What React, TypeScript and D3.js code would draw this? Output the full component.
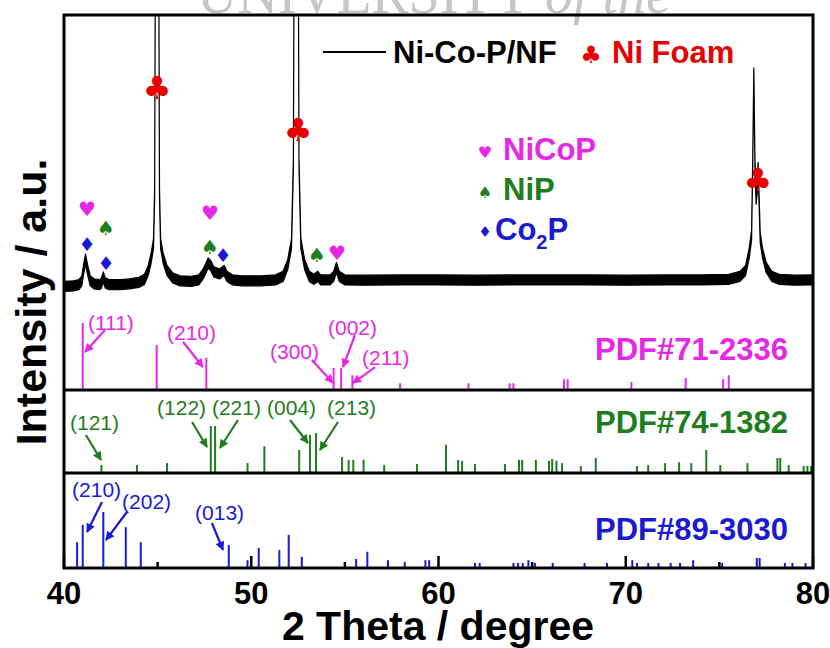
import React from 'react';
import * as d3 from 'd3';

const W = 830;
const H = 648;

// ---- measured XRD pattern (2θ in degrees, intensity in a.u., centre of noise band)
const xrdAngle = [
  40.0, 40.5, 40.8, 40.95, 41.05, 41.15, 41.25, 41.4, 41.6, 41.9, 42.0, 42.1, 42.2, 42.4, 43.0, 43.5,
  44.0, 44.3, 44.5, 44.65, 44.78, 44.84, 44.88, 44.97, 45.06, 45.1, 45.16, 45.3, 45.5, 45.8, 46.2,
  46.8, 47.2, 47.45, 47.7, 47.85, 48.0, 48.3, 48.55, 48.7, 49.0, 49.5, 50.5, 51.3, 51.7, 51.95,
  52.15, 52.25, 52.3, 52.4, 52.5, 52.55, 52.65, 52.85, 53.1, 53.35, 53.55, 53.7, 54.2, 54.4, 54.55,
  54.7, 55.0, 56, 58, 60, 62, 64, 66, 68, 70, 72, 74, 75.5, 76.1, 76.4, 76.6, 76.72, 76.78, 76.84,
  76.9, 76.96, 77.03, 77.07, 77.12, 77.18, 77.3, 77.5, 77.8, 78.2, 79, 80,
];
const xrdIntensity = [
  86, 88, 92, 105, 145, 178, 145, 105, 95, 92, 98, 118, 98, 92, 92, 95,
  100, 110, 140, 180, 230, 400, 1200, 3000, 1200, 400, 230, 180, 140, 115, 105,
  103, 108, 130, 165, 155, 135, 128, 140, 120, 108, 105, 105, 108, 120, 160,
  230, 500, 1500, 3000, 1500, 500, 230, 160, 120, 110, 120, 108, 108, 120, 150,
  120, 108, 107, 108, 108, 107, 108, 108, 108, 107, 108, 108, 110, 120, 140, 200, 260, 500, 805,
  500, 380, 420, 487, 380, 250, 200, 150, 120, 110, 107, 108,
];

// ---- reference cards (2θ, relative intensity %)
const nicopAngle = [41.0, 44.95, 47.6, 54.4, 54.8, 55.4, 57.95, 61.6, 63.8, 64.0, 66.7, 66.9, 70.3, 73.2, 75.2, 75.5];
const nicopIntensity = [100, 67, 48, 33, 33, 22, 10, 10, 10, 10, 16, 16, 12, 18, 16, 22];

const nipAngle = [
  42.0, 43.9, 45.5, 47.84, 48.07, 49.8, 50.7, 52.56, 53.14, 53.46, 54.85, 55.2, 55.45, 56.0, 57.1, 58.85,
  60.4, 61.05, 61.26, 61.95, 63.55, 64.3, 64.47, 65.2, 65.9, 66.07, 66.3, 66.6, 67.6, 68.4, 70.6, 71.2,
  72.1, 72.85, 73.5, 74.3, 75.05, 76.5, 78.1, 78.25, 78.7, 79.5, 79.7, 79.9,
];
const nipIntensity = [
  17, 17, 21, 100, 100, 21, 57, 49, 81, 85, 34, 28, 28, 28, 17, 19,
  60, 28, 26, 19, 19, 28, 28, 28, 26, 30, 26, 21, 15, 32, 15, 17,
  21, 23, 21, 49, 17, 21, 32, 32, 17, 15, 15, 15,
];

const co2pAngle = [
  40.7, 41.0, 42.1, 43.3, 44.1, 48.8, 49.8, 50.4, 51.5, 52.0, 52.7, 55.6, 56.2, 57.3, 58.2, 59.3, 59.5,
  61.95, 62.2, 64.0, 64.25, 64.5, 64.8, 65.0, 65.15, 66.1, 67.8, 69.0, 70.35, 70.6, 71.2, 71.75, 72.4,
  72.9, 73.6, 75.15, 77.0, 77.15, 78.5, 78.9, 79.6,
];
const co2pIntensity = [
  46, 77, 100, 73, 46, 41, 14, 36, 32, 59, 20, 16, 29, 14, 11, 14, 14,
  9, 9, 9, 9, 9, 14, 9, 9, 9, 9, 9, 14, 9, 9, 9, 9,
  9, 14, 9, 18, 18, 9, 9, 9,
];

const xMajorTicks = [40, 50, 60, 70, 80];
const xMinorTicks = [45, 55, 65, 75];

// ---- phase markers on the pattern (2θ, a.u.)
const markerAngle = [41.23, 42.24, 41.23, 42.24, 47.8, 47.8, 48.49, 53.51, 54.58, 44.97, 52.5, 77.06];
const markerValue = [347, 283, 229, 165, 333, 219, 192, 192, 199, 754, 613, 444];
const markerPhase = ['NiCoP', 'NiP', 'Co2P', 'Co2P', 'NiCoP', 'NiP', 'Co2P', 'NiP', 'NiCoP', 'Ni', 'Ni', 'Ni'];

// ---- hkl annotations: label, text (2θ, %), arrow from (2θ, %) to (2θ, %)
const nicopNotes = ['(111)', '(210)', '(300)', '(002)', '(211)'];
const nicopNoteText = [[41.28, 89.6], [45.5, 74.6], [51.0, 46.3], [54.1, 82.1], [55.92, 37.3]];
const nicopNoteArrow = [[42.19, 89.6, 41.12, 56.7], [46.36, 71.6, 47.42, 34.3], [53.24, 44.8, 54.37, 10.4], [55.54, 82.1, 54.9, 34.3], [56.61, 34.3, 55.43, 10.4]];

const nipNotes = ['(121)', '(122)', '(221)', '(004)', '(213)'];
const nipNoteText = [[40.32, 91.5], [44.97, 123.4], [47.9, 123.4], [50.84, 123.4], [54.05, 123.4]];
const nipNoteArrow = [[41.17, 80.9, 41.98, 27.7], [46.84, 108.5, 47.64, 55.3], [49.29, 112.8, 48.33, 53.2], [52.07, 112.8, 53.03, 63.8], [54.63, 108.5, 53.67, 48.9]];

const co2pNotes = ['(210)', '(202)', '(013)'];
const co2pNoteText = [[40.43, 126.8], [43.1, 105.4], [47.0, 85.7]];
const co2pNoteArrow = [[42.03, 117.9, 41.23, 64.3], [43.36, 100, 42.24, 50], [47.9, 80.4, 48.49, 32.1]];

const COLORS: Record<string, string> = {
  NiCoP: '#e628e6',
  NiP: '#1e7d1e',
  Co2P: '#1a1ad2',
  Ni: '#e60000',
};
const GLYPH: Record<string, string> = { NiCoP: '\u2665', NiP: '\u2660', Co2P: '\u2666', Ni: '\u2663' };
const GLYPH_SIZE: Record<string, number> = { NiCoP: 20, NiP: 20, Co2P: 19, Ni: 32 };

const FONT = "'Liberation Sans', Arial, Helvetica, sans-serif";
const SYM_FONT = "'DejaVu Sans', sans-serif";

export default function App() {
  const left = 64, right = 813, top = 15, bottom = 568;
  const sep1 = 390, sep2 = 473;

  const x = d3.scaleLinear().domain([40, 80]).range([left, right]);
  const yX = d3.scaleLinear().domain([0, 1000]).range([312, 15]);
  const y1 = d3.scaleLinear().domain([0, 100]).range([sep1, sep1 - 67]);
  const y2 = d3.scaleLinear().domain([0, 100]).range([sep2, sep2 - 47]);
  const y3 = d3.scaleLinear().domain([0, 100]).range([bottom, bottom - 56]);

  const band = 17;
  const pts = xrdAngle.map((a, i) => ({ a, v: xrdIntensity[i] }));
  const area = d3
    .area<{ a: number; v: number }>()
    .x((d) => x(d.a))
    .y0((d) => yX(d.v - band))
    .y1((d) => yX(d.v + band));

  const bars = (angles: number[], vals: number[], ys: d3.ScaleLinear<number, number>, color: string, key: string) =>
    angles.map((a, i) => (
      <line key={key + i} x1={x(a)} x2={x(a)} y1={ys(0)} y2={ys(vals[i])} stroke={color} strokeWidth={2} />
    ));

  const notes = (
    labels: string[],
    txt: number[][],
    arr: number[][],
    ys: d3.ScaleLinear<number, number>,
    color: string,
    key: string
  ) =>
    labels.map((l, i) => (
      <g key={key + i}>
        <text x={x(txt[i][0])} y={ys(txt[i][1])} fill={color} fontSize={21} fontFamily={FONT}>
          {l}
        </text>
        <line
          x1={x(arr[i][0])}
          y1={ys(arr[i][1])}
          x2={x(arr[i][2])}
          y2={ys(arr[i][3])}
          stroke={color}
          strokeWidth={2.2}
          markerEnd={`url(#arrow-${key})`}
        />
      </g>
    ));

  const arrowDef = (key: string, color: string) => (
    <marker
      id={`arrow-${key}`}
      key={key}
      viewBox="0 0 10 10"
      refX={9}
      refY={5}
      markerWidth={10}
      markerHeight={9}
      markerUnits="userSpaceOnUse"
      orient="auto"
    >
      <path d="M0,0 L10,5 L0,10 z" fill={color} />
    </marker>
  );

  return (
    <svg
      width={W}
      height={H}
      viewBox={`0 0 ${W} ${H}`}
      style={{ position: 'absolute', left: 0, top: 0, display: 'block', background: '#fff' }}
    >
      <defs>
        <clipPath id="plotClip">
          <rect x={left} y={top} width={right - left} height={sep1 - top} />
        </clipPath>
        {arrowDef('p1', COLORS.NiCoP)}
        {arrowDef('p2', COLORS.NiP)}
        {arrowDef('p3', COLORS.Co2P)}
      </defs>

      {/* watermark */}
      <text x={197} y={13} fill="#c6c6c6" fontSize={56} fontFamily="'Liberation Serif', serif">
        UNIVERSITY <tspan fontStyle="italic">of the</tspan>
      </text>

      {/* XRD pattern */}
      <g clipPath="url(#plotClip)">
        <path d={area(pts) || ''} fill="#000" stroke="#000" strokeWidth={1.2} strokeLinejoin="round" />
      </g>

      {/* phase markers */}
      {markerAngle.map((a, i) => {
        const ph = markerPhase[i];
        const fs = GLYPH_SIZE[ph];
        return (
          <text
            key={'m' + i}
            x={x(a)}
            y={yX(markerValue[i])}
            fill={COLORS[ph]}
            fontSize={fs}
            fontFamily={SYM_FONT}
            textAnchor="middle"
            dominantBaseline="central"
          >
            {GLYPH[ph]}
          </text>
        );
      })}

      {/* reference bars */}
      {bars(nicopAngle, nicopIntensity, y1, COLORS.NiCoP, 'b1')}
      {bars(nipAngle, nipIntensity, y2, COLORS.NiP, 'b2')}
      {bars(co2pAngle, co2pIntensity, y3, COLORS.Co2P, 'b3')}

      {notes(nicopNotes, nicopNoteText, nicopNoteArrow, y1, COLORS.NiCoP, 'p1')}
      {notes(nipNotes, nipNoteText, nipNoteArrow, y2, COLORS.NiP, 'p2')}
      {notes(co2pNotes, co2pNoteText, co2pNoteArrow, y3, COLORS.Co2P, 'p3')}

      {/* card labels */}
      <text x={788} y={360} textAnchor="end" fill={COLORS.NiCoP} fontSize={31} fontWeight="bold" fontFamily={FONT}>
        PDF#71-2336
      </text>
      <text x={788} y={433} textAnchor="end" fill={COLORS.NiP} fontSize={31} fontWeight="bold" fontFamily={FONT}>
        PDF#74-1382
      </text>
      <text x={788} y={540} textAnchor="end" fill={COLORS.Co2P} fontSize={31} fontWeight="bold" fontFamily={FONT}>
        PDF#89-3030
      </text>

      {/* ticks (inward, bottom) */}
      {xMajorTicks.map((t) => (
        <line key={'M' + t} x1={x(t)} x2={x(t)} y1={bottom} y2={bottom - 12} stroke="#000" strokeWidth={2.5} />
      ))}
      {xMinorTicks.map((t) => (
        <line key={'n' + t} x1={x(t)} x2={x(t)} y1={bottom} y2={bottom - 6} stroke="#000" strokeWidth={2.5} />
      ))}

      {/* frame & separators */}
      <rect x={left} y={top} width={right - left} height={bottom - top} fill="none" stroke="#000" strokeWidth={3} />
      <line x1={left} x2={right} y1={sep1} y2={sep1} stroke="#000" strokeWidth={3} />
      <line x1={left} x2={right} y1={sep2} y2={sep2} stroke="#000" strokeWidth={3} />

      {/* tick labels */}
      {xMajorTicks.map((t) => (
        <text key={'l' + t} x={x(t)} y={604} textAnchor="middle" fontSize={31} fontWeight="bold" fontFamily={FONT}>
          {t}
        </text>
      ))}

      {/* axis titles */}
      <text x={438} y={640} textAnchor="middle" fontSize={41} fontWeight="bold" fontFamily={FONT}>
        2 Theta / degree
      </text>
      <text
        transform="translate(46,302) rotate(-90)"
        textAnchor="middle"
        fontSize={43}
        fontWeight="bold"
        fontFamily={FONT}
      >
        Intensity / a.u.
      </text>

      {/* legend top */}
      <line x1={323} x2={386} y1={52} y2={52} stroke="#000" strokeWidth={2} />
      <text x={393} y={63} fontSize={31} fontWeight="bold" fontFamily={FONT} fill="#000">
        Ni-Co-P/NF
      </text>
      <text x={591} y={55} fontSize={24} fontFamily={SYM_FONT} fill={COLORS.Ni} textAnchor="middle" dominantBaseline="central">
        {GLYPH.Ni}
      </text>
      <text x={612} y={63} fontSize={31} fontWeight="bold" fontFamily={FONT} fill={COLORS.Ni}>
        Ni Foam
      </text>

      {/* legend phases */}
      <text x={485} y={152} fontSize={16} fontFamily={SYM_FONT} fill={COLORS.NiCoP} textAnchor="middle" dominantBaseline="central">
        {GLYPH.NiCoP}
      </text>
      <text x={503} y={160} fontSize={31} fontWeight="bold" fontFamily={FONT} fill={COLORS.NiCoP}>
        NiCoP
      </text>
      <text x={485} y={192} fontSize={16} fontFamily={SYM_FONT} fill={COLORS.NiP} textAnchor="middle" dominantBaseline="central">
        {GLYPH.NiP}
      </text>
      <text x={503} y={200} fontSize={31} fontWeight="bold" fontFamily={FONT} fill={COLORS.NiP}>
        NiP
      </text>
      <text x={485} y={232} fontSize={15} fontFamily={SYM_FONT} fill={COLORS.Co2P} textAnchor="middle" dominantBaseline="central">
        {GLYPH.Co2P}
      </text>
      <text x={495} y={240} fontSize={31} fontWeight="bold" fontFamily={FONT} fill={COLORS.Co2P}>
        Co
        <tspan fontSize={20} dy={9}>
          2
        </tspan>
        <tspan dy={-9}>P</tspan>
      </text>
    </svg>
  );
}
